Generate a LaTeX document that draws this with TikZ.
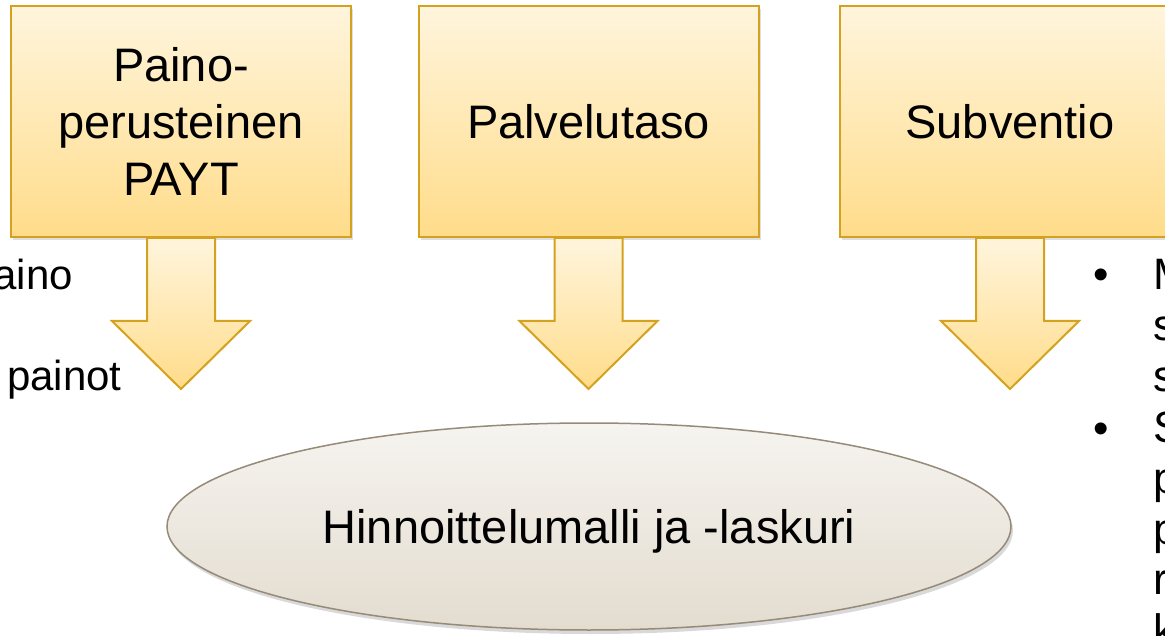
\documentclass[tikz,border=0pt]{standalone}
\usepackage{fontspec}
\setmainfont{Liberation Sans}
\usetikzlibrary{shapes.geometric,shadows,calc}
\definecolor{boxtop}{HTML}{FFF5DD}
\definecolor{boxbot}{HTML}{FFDC8A}
\definecolor{boxline}{HTML}{D4A21E}
\definecolor{elltop}{HTML}{F6F4F0}
\definecolor{ellbot}{HTML}{E3DCCF}
\definecolor{ellline}{HTML}{968A78}
\tikzset{
	pbox/.style={draw=boxline, line width=2pt, top color=boxtop, bottom color=boxbot,
		minimum width=340pt, minimum height=231pt, align=center,
		font=\fontsize{47}{57}\selectfont,
		drop shadow={opacity=0.25, shadow xshift=2pt, shadow yshift=-3pt}},
	downarrow/.style={draw=boxline, line width=2pt, top color=boxtop, bottom color=boxbot, line join=miter},
	malli/.style={ellipse, draw=ellline, line width=1.5pt, top color=elltop, bottom color=ellbot,
		minimum width=844pt, minimum height=207pt, text depth=0pt,
		font=\fontsize{47}{57}\selectfont,
		drop shadow={opacity=0.3, shadow xshift=2pt, shadow yshift=-4pt}},
	sidetext/.style={inner sep=0pt, font=\fontsize{44}{51}\selectfont}
}
\begin{document}
\begin{tikzpicture}[x=1pt, y=-1pt]
	\useasboundingbox (0,0) rectangle (1165,636);
	\clip (0,0) rectangle (1165,636);
	% lahtotiedot
	\node[pbox] (paino) at (181,121.5) {Paino-\\perusteinen\\PAYT};
	\node[pbox] (taso) at (588.5,121.5) {Palvelutaso};
	\node[pbox] (subv) at (1010,121.5) {Subventio};
	\foreach \b in {paino,taso,subv}
	{
		\draw[downarrow] ($(\b.south)+(-34,0)$) -- ++(0,83) -- ++(-35,0) -- ($(\b.south)+(0,151)$)
			-- ($(\b.south)+(69,83)$) -- ++(-35,0) -- ($(\b.south)+(34,0)$) -- cycle;
	}
	% tulos
	\node[malli] (laskuri) at (589,526.5) {Hinnoittelumalli ja -laskuri};
	% reunojen tekstit
	\node[sidetext, font=\fontsize{42}{51}\selectfont, anchor=base east] (vas1) at (73,290) {aino};
	\node[sidetext, font=\fontsize{42}{51}\selectfont, anchor=base west] (vas2) at (7,390) {painot};
	\node[sidetext, anchor=base] (luet1) at (1101,290) {•};
	\node[sidetext, anchor=base] (luet2) at (1101,443) {•};
	\foreach \t [count=\i] in {M,s,s,S,p,p,r,k}
		\node[sidetext, anchor=base west] (oik\i) at (1153,{290+50.8*(\i-1)}) {\t};
\end{tikzpicture}
\end{document}
